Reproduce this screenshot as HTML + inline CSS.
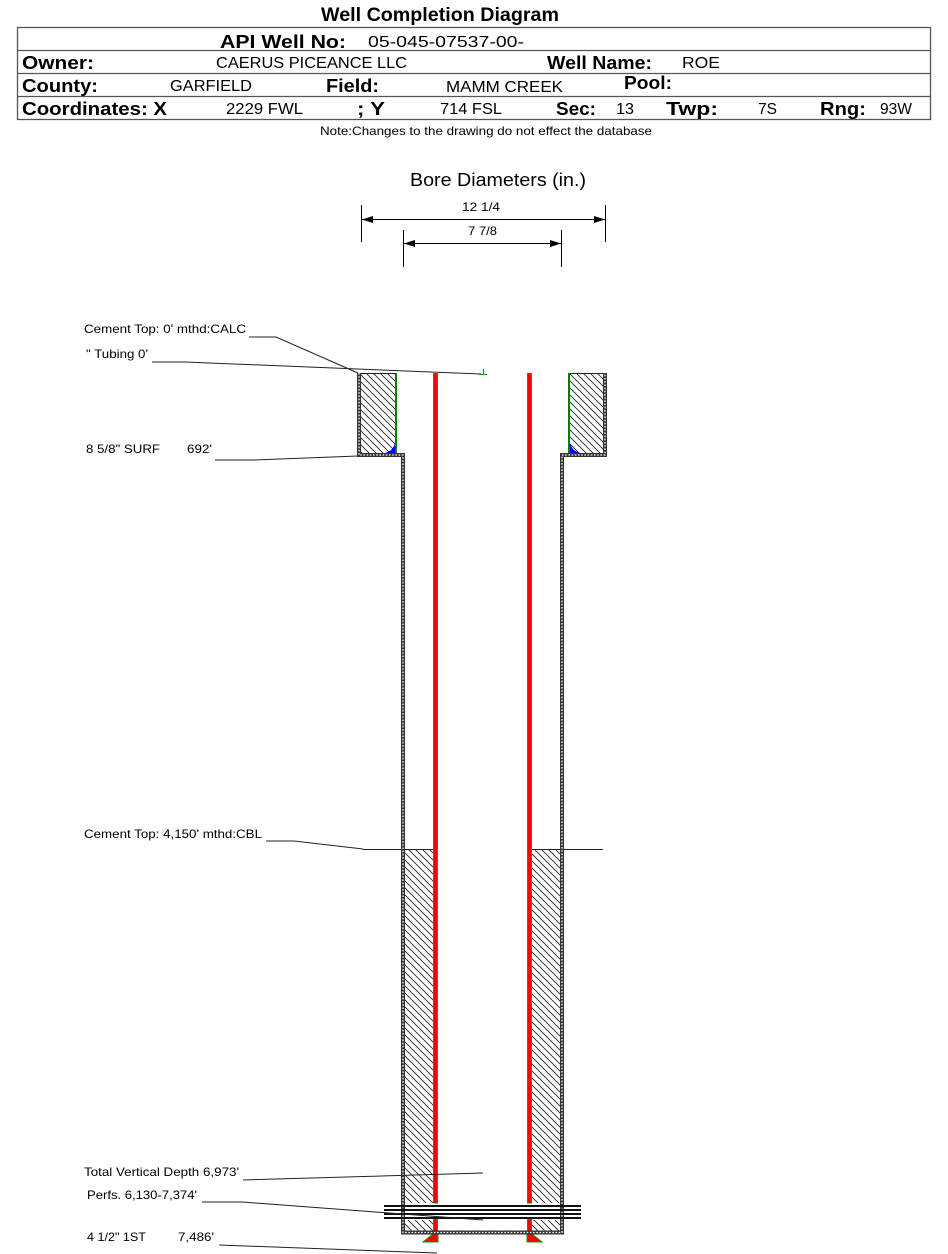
<!DOCTYPE html>
<html><head><meta charset="utf-8"><style>
html,body{margin:0;padding:0;background:#fff;}
svg{display:block;}
text{font-family:"Liberation Sans",Arial,sans-serif;fill:#000;}
.b{font-weight:bold;font-size:18px;}
.v{font-size:16px;}
.l{font-size:12px;}
</style></head><body>
<svg width="948" height="1254" viewBox="0 0 948 1254" xmlns="http://www.w3.org/2000/svg">
<defs>
<pattern id="h" patternUnits="userSpaceOnUse" width="7" height="7">
<path d="M0,0 L7,7 M-1,6 L1,8 M6,-1 L8,1" stroke="#222" stroke-width="0.9"/>
</pattern>
</defs>
<rect width="948" height="1254" fill="#fff"/>

<!-- Header -->
<text class="b" x="321" y="21" textLength="238" lengthAdjust="spacingAndGlyphs" style="font-size:19px">Well Completion Diagram</text>
<rect x="17.5" y="27.5" width="913" height="92" fill="none" stroke="#555" stroke-width="1.3"/>
<line x1="17.5" y1="50.5" x2="930.5" y2="50.5" stroke="#555" stroke-width="1.3"/>
<line x1="17.5" y1="73.5" x2="930.5" y2="73.5" stroke="#555" stroke-width="1.3"/>
<line x1="17.5" y1="96.5" x2="930.5" y2="96.5" stroke="#555" stroke-width="1.3"/>

<text class="b" x="220" y="48" textLength="126" lengthAdjust="spacingAndGlyphs">API Well No:</text>
<text class="v" x="368" y="47" textLength="156" lengthAdjust="spacingAndGlyphs">05-045-07537-00-</text>

<text class="b" x="22" y="69" textLength="72" lengthAdjust="spacingAndGlyphs">Owner:</text>
<text class="v" x="216" y="68" textLength="191" lengthAdjust="spacingAndGlyphs">CAERUS PICEANCE LLC</text>
<text class="b" x="547" y="69" textLength="105" lengthAdjust="spacingAndGlyphs">Well Name:</text>
<text class="v" x="682" y="68" textLength="38" lengthAdjust="spacingAndGlyphs">ROE</text>

<text class="b" x="22" y="92" textLength="76" lengthAdjust="spacingAndGlyphs">County:</text>
<text class="v" x="170" y="91" textLength="82" lengthAdjust="spacingAndGlyphs">GARFIELD</text>
<text class="b" x="326" y="92" textLength="53" lengthAdjust="spacingAndGlyphs">Field:</text>
<text class="v" x="446" y="92" textLength="117" lengthAdjust="spacingAndGlyphs">MAMM CREEK</text>
<text class="b" x="624" y="89" textLength="48" lengthAdjust="spacingAndGlyphs">Pool:</text>

<text class="b" x="22" y="115" textLength="145" lengthAdjust="spacingAndGlyphs">Coordinates: X</text>
<text class="v" x="226" y="114" textLength="77" lengthAdjust="spacingAndGlyphs">2229 FWL</text>
<text class="b" x="357" y="115" textLength="28" lengthAdjust="spacingAndGlyphs">; Y</text>
<text class="v" x="440" y="114" textLength="62" lengthAdjust="spacingAndGlyphs">714 FSL</text>
<text class="b" x="556" y="115" textLength="40" lengthAdjust="spacingAndGlyphs">Sec:</text>
<text class="v" x="616" y="114" textLength="18" lengthAdjust="spacingAndGlyphs">13</text>
<text class="b" x="666" y="115" textLength="52" lengthAdjust="spacingAndGlyphs">Twp:</text>
<text class="v" x="758" y="114" textLength="19" lengthAdjust="spacingAndGlyphs">7S</text>
<text class="b" x="820" y="115" textLength="46" lengthAdjust="spacingAndGlyphs">Rng:</text>
<text class="v" x="880" y="114" textLength="32" lengthAdjust="spacingAndGlyphs">93W</text>

<text x="320" y="135" style="font-size:12px" textLength="332" lengthAdjust="spacingAndGlyphs">Note:Changes to the drawing do not effect the database</text>

<!-- Bore diameters -->
<text x="410" y="186" style="font-size:18px" textLength="176" lengthAdjust="spacingAndGlyphs">Bore Diameters (in.)</text>
<text x="462" y="211" style="font-size:12px" textLength="38" lengthAdjust="spacingAndGlyphs">12 1/4</text>
<text x="468" y="235" style="font-size:12px" textLength="29" lengthAdjust="spacingAndGlyphs">7 7/8</text>
<g stroke="#000" stroke-width="1">
<line x1="361.5" y1="205" x2="361.5" y2="242"/>
<line x1="605.5" y1="205" x2="605.5" y2="242"/>
<line x1="362" y1="219.5" x2="605" y2="219.5"/>
<line x1="403.5" y1="230" x2="403.5" y2="267"/>
<line x1="561.5" y1="230" x2="561.5" y2="267"/>
<line x1="404" y1="243.5" x2="561" y2="243.5"/>
</g>
<g fill="#000">
<polygon points="362,219.5 373,216 373,223"/>
<polygon points="605,219.5 594,216 594,223"/>
<polygon points="404,243.5 415,240 415,247"/>
<polygon points="561,243.5 550,240 550,247"/>
</g>

<!-- Cement (hatch) -->
<rect x="361" y="373" width="34" height="80" fill="url(#h)"/>
<rect x="570" y="373" width="33" height="80" fill="url(#h)"/>
<rect x="405" y="849" width="28.5" height="382" fill="url(#h)"/>
<rect x="531.5" y="849" width="28.5" height="382" fill="url(#h)"/>
<g stroke="#222" stroke-width="1">
<line x1="359" y1="373.5" x2="396" y2="373.5"/>
<line x1="569" y1="373.5" x2="605" y2="373.5"/>
<line x1="363" y1="849.5" x2="433" y2="849.5"/>
<line x1="532" y1="849.5" x2="603" y2="849.5"/>
</g>

<!-- perf white band -->
<rect x="405" y="1203" width="155" height="17" fill="#fff"/>

<!-- Surface casing (green) and shoes (blue) -->
<rect x="395" y="373" width="2" height="82" fill="#008000"/>
<rect x="568" y="373" width="2" height="82" fill="#008000"/>
<path d="M395,443 L395,453 L385,453 Q393,451 395,443 Z" fill="#0000ff"/>
<path d="M570,443 L570,453 L580,453 Q572,451 570,443 Z" fill="#0000ff"/>

<!-- Production casing (red) -->
<g fill="#ff0000" stroke="#00a000" stroke-width="1">
<rect x="433.5" y="373.5" width="4" height="829.5"/>
<rect x="433.5" y="1219.5" width="4" height="14"/>
<rect x="527.5" y="373.5" width="4" height="829.5"/>
<rect x="527.5" y="1219.5" width="4" height="14"/>
<polygon points="433,1234 438,1234 438,1242 423,1242"/>
<polygon points="527,1234 532,1234 542,1242 527,1242"/>
</g>

<!-- Hole walls (dashed) -->
<path d="M359,373 L359,455 L403,455 L403,1232.5 L562,1232.5 L562,455 L605,455 L605,373" fill="none" stroke="#333" stroke-width="4" stroke-linejoin="miter"/>
<path d="M359,373 L359,455 L403,455 L403,1232.5 L562,1232.5 L562,455 L605,455 L605,373" fill="none" stroke="#fff" stroke-width="1.3" stroke-dasharray="1.6,1.6"/>

<!-- Perforations -->
<g stroke="#111" stroke-width="2">
<line x1="384" y1="1206" x2="581" y2="1206"/>
<line x1="384" y1="1210" x2="581" y2="1210"/>
<line x1="384" y1="1214" x2="581" y2="1214"/>
<line x1="384" y1="1218" x2="581" y2="1218"/>
</g>

<!-- Leaders -->
<g fill="none" stroke="#222" stroke-width="1">
<polyline points="249,337 276,337 358,373"/>
<polyline points="152,362 185,362 481,374"/>
<polyline points="215,460 253,460 358,456"/>
<polyline points="266,841 294,841 363,849"/>
<line x1="243" y1="1180" x2="483" y2="1173"/>
<polyline points="202,1202 242,1202 483,1220"/>
<line x1="219" y1="1245" x2="437" y2="1253"/>
</g>
<g stroke="#00a000" stroke-width="1">
<line x1="479" y1="374.5" x2="487" y2="374.5"/>
<line x1="483.5" y1="369" x2="483.5" y2="375"/>
</g>

<!-- Labels -->
<text class="l" x="84" y="333" textLength="162" lengthAdjust="spacingAndGlyphs">Cement Top: 0' mthd:CALC</text>
<text class="l" x="86" y="358" textLength="62" lengthAdjust="spacingAndGlyphs">" Tubing 0'</text>
<text class="l" x="86" y="453" textLength="74" lengthAdjust="spacingAndGlyphs">8 5/8" SURF</text>
<text class="l" x="187" y="453" textLength="25" lengthAdjust="spacingAndGlyphs">692'</text>
<text class="l" x="84" y="838" textLength="178" lengthAdjust="spacingAndGlyphs">Cement Top: 4,150' mthd:CBL</text>
<text class="l" x="84" y="1176" textLength="155" lengthAdjust="spacingAndGlyphs">Total Vertical Depth 6,973'</text>
<text class="l" x="87" y="1199" textLength="110" lengthAdjust="spacingAndGlyphs">Perfs. 6,130-7,374'</text>
<text class="l" x="87" y="1241" textLength="59" lengthAdjust="spacingAndGlyphs">4 1/2" 1ST</text>
<text class="l" x="178" y="1241" textLength="36" lengthAdjust="spacingAndGlyphs">7,486'</text>
</svg>
</body></html>
